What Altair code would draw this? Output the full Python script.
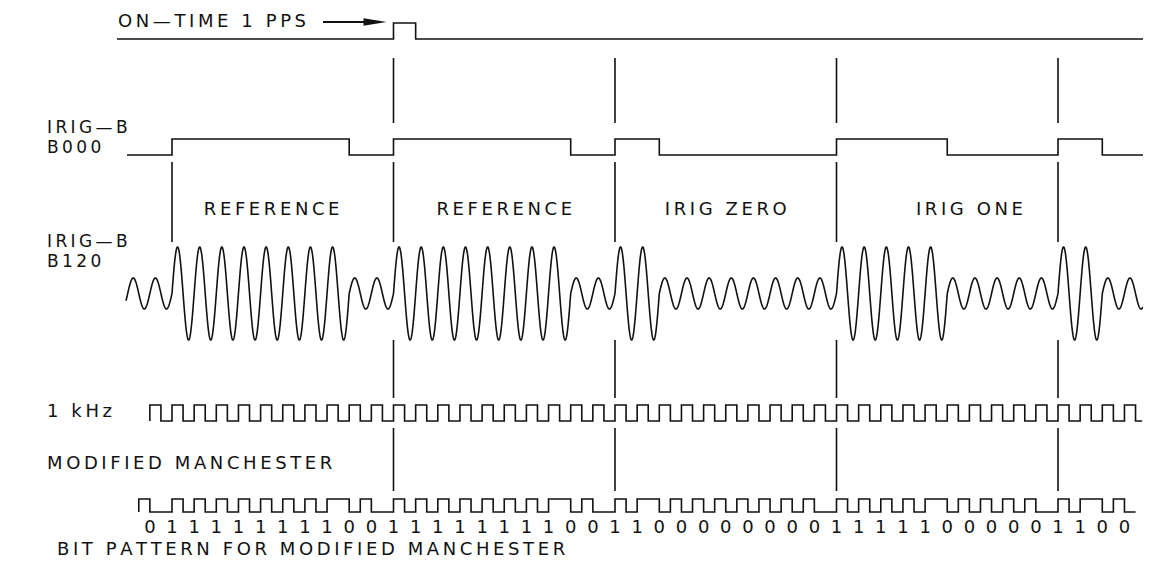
import altair as alt
import numpy as np
import pandas as pd

# ---------------- values ----------------
# IRIG-B bits shown (each 10 ms); the first reference bit starts at t = 0 ms
bit_kinds = ["REF", "REF", "ZERO", "ONE", "ZERO"]
high_ms = {"REF": 8, "ZERO": 2, "ONE": 5}          # B000 pulse width per bit kind
segment_names = ["REFERENCE", "REFERENCE", "IRIG ZERO", "IRIG ONE"]
segment_centers_ms = [4.5, 15.0, 25.0, 36.0]
marker_ms = [10, 20, 30, 40]                        # on-time marks (full height)
first_ref_ms = [0]                                  # left mark (B120 band only)
pps_pulse_ms = [10, 11]
bit_pattern = [0, 1, 1, 1, 1, 1, 1, 1, 1, 0, 0, 1, 1, 1, 1, 1, 1, 1, 1, 0, 0,
               1, 1, 0, 0, 0, 0, 0, 0, 0, 0, 1, 1, 1, 1, 1, 0, 0, 0, 0, 0,
               1, 1, 0, 0]
bit_pattern_start_ms = -1
carrier_cycles_per_ms = 1
mark_space_ratio = 3.0

# ---------------- layout (reference pixel rows / px per ms) ----------------
PX_PER_MS = 22.15
X0_PX = 172.0
W, H = 1135, 558
t_lo = (8 - X0_PX) / PX_PER_MS
t_hi = (8 + W - X0_PX) / PX_PER_MS


def t_of(px):
    return (px - X0_PX) / PX_PER_MS


PPS = dict(low=39, high=23)
B000 = dict(low=155, high=139)
B120 = dict(center=293.5, amp=46.5)
KHZ = dict(low=421, high=405)
MM = dict(low=512, high=499)
MARK_BANDS = [(58, 123), (162, 242), (340, 398), (428, 491)]


def is_high(t):
    i = int(np.floor(t / 10.0))
    if i < 0 or i >= len(bit_kinds):
        return False
    return (t - 10 * i) < high_ms[bit_kinds[i]]


rows = []


def add(series, pts):
    for j, (t, y) in enumerate(pts):
        rows.append(dict(series=series, i=j, t=t, y=y))


# 1 PPS
p = [(t_of(117), PPS["low"]), (pps_pulse_ms[0], PPS["low"]), (pps_pulse_ms[0], PPS["high"]),
     (pps_pulse_ms[1], PPS["high"]), (pps_pulse_ms[1], PPS["low"]), (t_hi, PPS["low"])]
add("pps", p)

# B000 (DC level shift)
p = [(t_of(127), B000["low"])]
for i, k in enumerate(bit_kinds):
    a, b = 10 * i, 10 * i + high_ms[k]
    p += [(a, B000["low"]), (a, B000["high"]), (b, B000["high"]), (b, B000["low"])]
p.append((min(t_of(1146), t_hi), B000["low"]))
add("b000", p)

# B120 (amplitude modulated 1 kHz carrier)
ts = np.arange(t_of(126), min(t_of(1147), t_hi), 0.01)
p = []
for t in ts:
    a = B120["amp"] if is_high(np.floor(t) + 0.5) else B120["amp"] / mark_space_ratio
    p.append((t, B120["center"] - a * np.sin(2 * np.pi * carrier_cycles_per_ms * t)))
add("b120", p)

# 1 kHz square wave
p = [(-1, KHZ["low"])]
for k in range(-1, 44):
    p += [(k, KHZ["low"]), (k, KHZ["high"]), (k + 0.5, KHZ["high"]), (k + 0.5, KHZ["low"])]
p.append((min(43.8, t_hi), KHZ["low"]))
add("khz", p)

# Modified Manchester
p = [(bit_pattern_start_ms - 0.5, MM["low"])]
for n, b in enumerate(bit_pattern):
    c = bit_pattern_start_ms + n
    first, second = (MM["low"], MM["high"]) if b == 1 else (MM["high"], MM["low"])
    p += [(c - 0.5, first), (c, first), (c, second), (c + 0.5, second)]
add("mm", p)

sig = pd.DataFrame(rows)

# marker rules
mrows = []
for m in marker_ms:
    for y1, y2 in MARK_BANDS:
        mrows.append(dict(t=m, y=y1, y2=y2))
for m in first_ref_ms:
    mrows.append(dict(t=m, y=MARK_BANDS[1][0], y2=MARK_BANDS[1][1]))
marks = pd.DataFrame(mrows)

FONT = "DejaVu Sans"
FS = 18
COL = "#111111"
SP = "\u2009"  # thin space used as letter spacing (drafting-style lettering)


def spaced(s):
    return SP.join(s)


xs = alt.Scale(domain=[t_lo, t_hi], nice=False, zero=False)
ys = alt.Scale(domain=[8, 8 + H], reverse=True, nice=False, zero=False)


def X(f="t"):
    return alt.X(f"{f}:Q", scale=xs, axis=None)


def Y(f="y"):
    return alt.Y(f"{f}:Q", scale=ys, axis=None)


lines = alt.Chart(sig).mark_line(color=COL, strokeWidth=1.6, interpolate="linear").encode(
    x=X(), y=Y(), detail="series:N", order="i:Q")

rules = alt.Chart(marks).mark_rule(color=COL, strokeWidth=1.6).encode(
    x=X(), y=Y(), y2="y2:Q")

# single-line left-aligned labels
left = pd.DataFrame([
    dict(t=t_of(118), y=22, s="ON—TIME 1 PPS"),
    dict(t=t_of(47), y=412, s="1 kHz"),
    dict(t=t_of(47), y=464, s="MODIFIED MANCHESTER"),
    dict(t=t_of(57), y=550, s="BIT PATTERN FOR MODIFIED MANCHESTER"),
])
left["s"] = left["s"].map(spaced)
left_text = alt.Chart(left).mark_text(align="left", baseline="middle", font=FONT,
                                      fontSize=FS, color=COL).encode(x=X(), y=Y(), text="s:N")

# two-line signal names (IRIG-B code names)
names = pd.DataFrame([
    dict(t=t_of(47), y=128, s="IRIG—B"),
    dict(t=t_of(47), y=148, s="B000"),
    dict(t=t_of(47), y=242, s="IRIG—B"),
    dict(t=t_of(47), y=262, s="B120"),
])
names["s"] = names["s"].map(spaced)
name_text = alt.Chart(names).mark_text(align="left", baseline="middle", font=FONT,
                                       fontSize=17, color=COL).encode(x=X(), y=Y(), text="s:N")

seg = pd.DataFrame(dict(t=segment_centers_ms, y=[210] * 4, s=[spaced(s) for s in segment_names]))
seg_text = alt.Chart(seg).mark_text(align="center", baseline="middle", font=FONT,
                                    fontSize=FS, color=COL).encode(x=X(), y=Y(), text="s:N")

bits = pd.DataFrame(dict(t=[bit_pattern_start_ms + n for n in range(len(bit_pattern))],
                         y=[528] * len(bit_pattern), s=[str(b) for b in bit_pattern]))
bit_text = alt.Chart(bits).mark_text(align="center", baseline="middle", font=FONT,
                                     fontSize=FS, color=COL).encode(x=X(), y=Y(), text="s:N")

# arrow after the PPS caption
arrow = pd.DataFrame(dict(t=[t_of(323), t_of(368)], y=[22, 22]))
arrow_line = alt.Chart(arrow).mark_line(color=COL, strokeWidth=1.8).encode(x=X(), y=Y())
head = pd.DataFrame(dict(t=[t_of(375)], y=[22]))
arrow_head = alt.Chart(head).mark_point(
    shape="M -1 -0.32 L 1 0 L -1 0.32 Z", size=530, filled=True, color=COL, opacity=1
).encode(x=X(), y=Y())

chart = alt.layer(lines, rules, left_text, name_text, seg_text, bit_text,
                  arrow_line, arrow_head).properties(
    width=W, height=H, padding=0, autosize=alt.AutoSizeParams(type="none"),
    background="white"
).configure_view(stroke=None)

chart.save("out.html", embed_options={"renderer": "svg", "actions": False})
